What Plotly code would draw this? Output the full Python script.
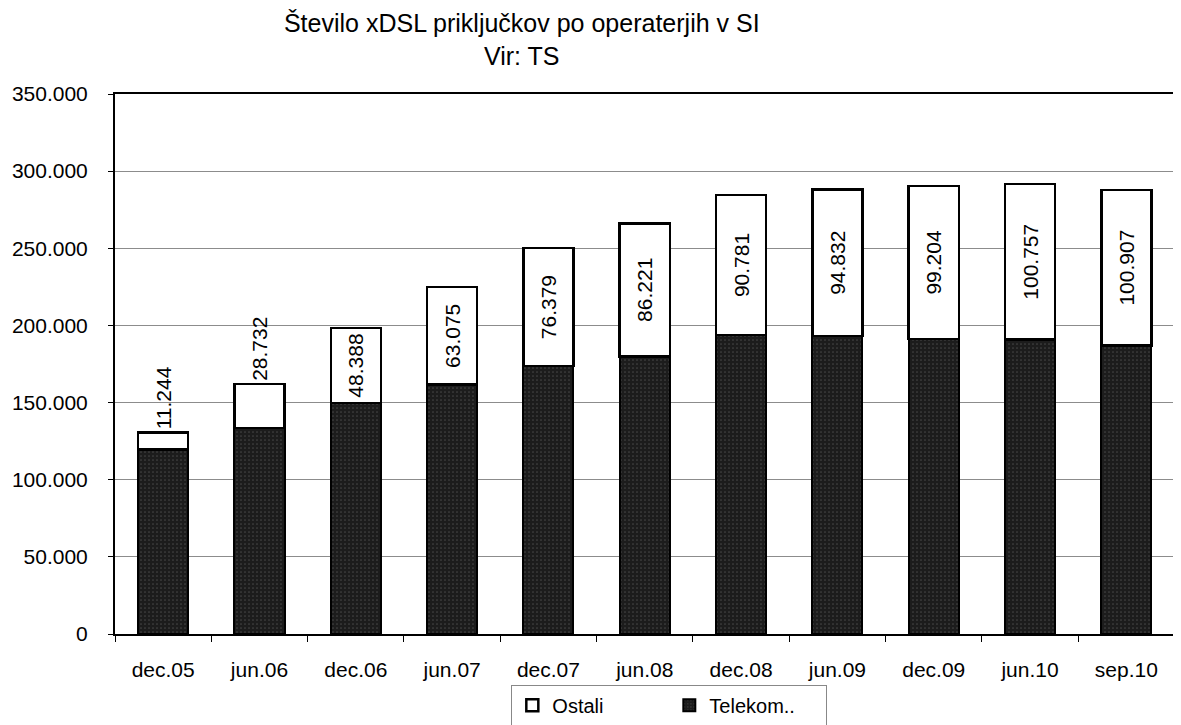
import plotly.graph_objects as go

categories = ["dec.05", "jun.06", "dec.06", "jun.07", "dec.07", "jun.08",
              "dec.08", "jun.09", "dec.09", "jun.10", "sep.10"]
telekom = [119500, 133400, 149800, 161700, 173700, 180000,
           193800, 193200, 191300, 190900, 187000]
ostali = [11244, 28732, 48388, 63075, 76379, 86221,
          90781, 94832, 99204, 100757, 100907]
ostali_labels = ["11.244", "28.732", "48.388", "63.075", "76.379", "86.221",
                 "90.781", "94.832", "99.204", "100.757", "100.907"]
y_ticks = [0, 50000, 100000, 150000, 200000, 250000, 300000, 350000]
y_tick_labels = ["0", "50.000", "100.000", "150.000", "200.000", "250.000",
                 "300.000", "350.000"]

FONT = "Liberation Sans, Arial, sans-serif"

fig = go.Figure()
fig.add_trace(go.Bar(
    x=categories, y=telekom, name="Telekom..",
    marker=dict(color="#1c1c1c", line=dict(color="black", width=2),
                pattern=dict(shape=".", fgcolor="#6a6a6a", bgcolor="#1c1c1c",
                             size=4, solidity=0.15)),
    hoverinfo="skip",
))
fig.add_trace(go.Bar(
    x=categories, y=ostali, name="Ostali",
    marker=dict(color="white", line=dict(color="black", width=2.5)),
    text=ostali_labels,
    textposition=["outside", "outside"] + ["inside"] * 9,
    insidetextanchor="middle",
    textangle=-90,
    constraintext="none",
    textfont=dict(family=FONT, size=21, color="black"),
    cliponaxis=False,
    hoverinfo="skip",
))

# the page body has an 8px margin, so the figure is sized to fit the window
fig.update_layout(
    width=1173, height=717,
    barmode="stack", bargap=0.48,
    paper_bgcolor="white", plot_bgcolor="white",
    margin=dict(l=107, r=0, t=86, b=91, autoexpand=False),
    font=dict(family=FONT, size=20, color="black"),
    title=dict(text="Število xDSL priključkov po operaterjih v SI<br>Vir: TS",
               x=0.438, xanchor="center", y=0.966, yanchor="top",
               font=dict(family=FONT, size=25, color="black")),
    legend=dict(orientation="h", x=0.52, xanchor="center",
                y=-0.17, yanchor="bottom",
                bordercolor="#888", borderwidth=1, bgcolor="white",
                traceorder="reversed", entrywidth=112, itemwidth=30,
                font=dict(family=FONT, size=20, color="black")),
    showlegend=True,
)
fig.update_xaxes(
    type="category", range=[-0.5, 10.567], automargin=False,
    showline=True, linecolor="black", linewidth=2, mirror=True,
    ticks="outside", tickson="boundaries", ticklen=6, tickcolor="black",
    ticklabelstandoff=16,
    tickfont=dict(family=FONT, size=21, color="black"),
    showgrid=False,
)
fig.update_yaxes(
    range=[0, 350000], tickvals=y_ticks, ticktext=y_tick_labels, automargin=False,
    showline=True, linecolor="black", linewidth=2,
    ticks="outside", ticklen=5, tickcolor="black",
    ticklabelstandoff=16,
    tickfont=dict(family=FONT, size=21, color="black"),
    showgrid=True, gridcolor="#8c8c8c", gridwidth=1,
    zeroline=False,
)

fig.write_html("out.html")
